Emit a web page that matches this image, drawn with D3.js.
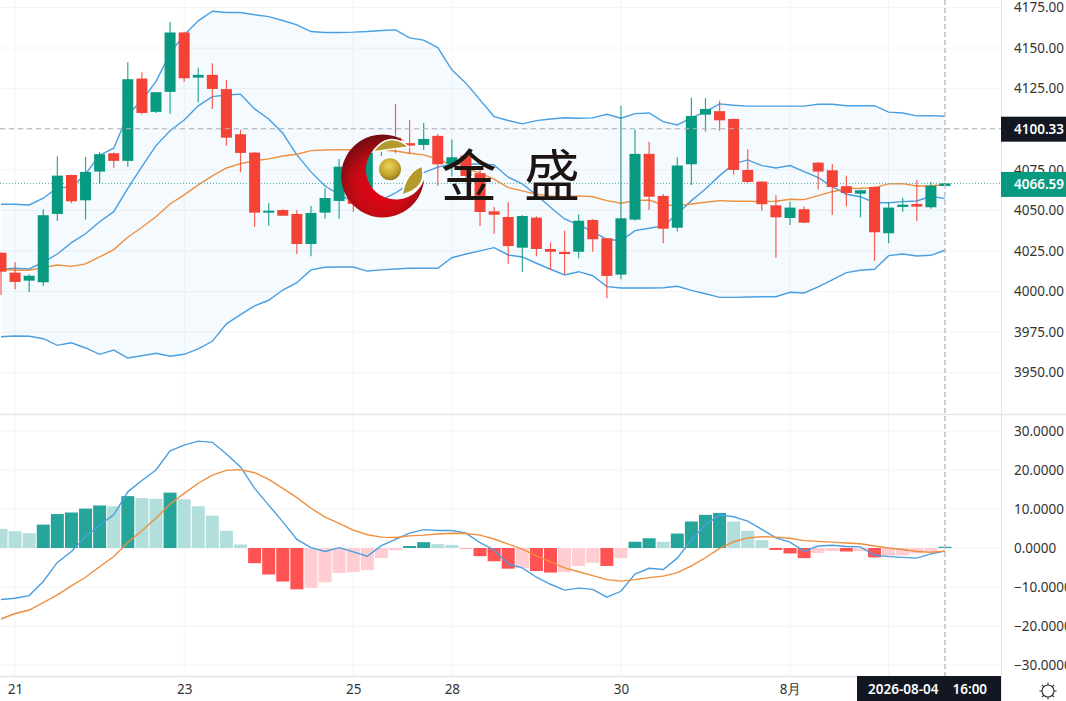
<!DOCTYPE html>
<html>
<head>
<meta charset="utf-8">
<script src="https://cdn.jsdelivr.net/npm/d3@7"></script>
<style>
  html, body { margin: 0; padding: 0; background: #fff; overflow: hidden; }
  text { font-family: "Noto Sans", sans-serif; }
  .tick text { font-size: 13.5px; fill: #333; }
</style>
</head>
<body>
<svg id="chart" width="1066" height="701"></svg>
<script>
// candles, oldest first
var openPrices = [4023.9, 4011.6, 4006.7, 4005.7, 4047.8, 4071.8, 4056.2, 4073.9, 4085.2, 4080.5,
  4131.2, 4110.7, 4123, 4159.6, 4131.8, 4133.5, 4124.7, 4096.9, 4085.6, 4048.6,
  4050.2, 4047.8, 4029.3, 4048.6, 4055.8, 4075, 4054, 4089.3, 4094.8, 4091.4,
  4090.3, 4095.9, 4078.6, 4083.7, 4072.9, 4049.4, 4045.9, 4027, 4045.5, 4026.2,
  4024.4, 4024.5, 4044.1, 4032.8, 4010.4, 4044.3, 4084.8, 4058.9, 4039.3, 4078.4,
  4109, 4111.1, 4106.3, 4074.9, 4067.7, 4053.1, 4045.3, 4050.7, 4079.4, 4074.7,
  4064.9, 4060.3, 4064.4, 4035.9, 4052.1, 4053.9, 4051.9, 4065];
var closePrices = [4012.2, 4005.9, 4009.7, 4047, 4071.4, 4055.6, 4073.7, 4084.6, 4080.5, 4130.8,
  4110, 4122.8, 4159.6, 4131.4, 4133.5, 4124.8, 4094.8, 4085.4, 4048.6, 4049.8,
  4046.7, 4029.3, 4048.4, 4057.6, 4076.9, 4054, 4089, 4094, 4090.3, 4089.9,
  4094, 4078.4, 4082.7, 4071.2, 4049, 4047.3, 4028, 4046.5, 4026.2, 4024.5,
  4023.1, 4043.6, 4032.2, 4009.6, 4045.1, 4084.8, 4058.4, 4038.7, 4077.6, 4108.2,
  4112.5, 4105.5, 4074.9, 4067.5, 4053.8, 4045.7, 4051.7, 4042.4, 4073.9, 4064.4,
  4060.7, 4062.4, 4036.5, 4051.7, 4053.5, 4052.3, 4065.2, 4066.59];
var highPrices = [4024, 4018, 4010.4, 4050.7, 4083.4, 4072, 4082.9, 4086, 4085.6, 4141.3,
  4135.1, 4123, 4166, 4160, 4137.8, 4140.7, 4130.4, 4099.6, 4086, 4054.6,
  4050.7, 4050.2, 4052.7, 4063.6, 4081.7, 4076, 4090, 4096, 4115.6, 4105.7,
  4103.9, 4097.1, 4093.6, 4084, 4075, 4052.1, 4055, 4047, 4046.4, 4030.3,
  4037.5, 4047.6, 4044.5, 4033, 4114.4, 4099.6, 4092.2, 4060.1, 4082.7, 4119.5,
  4119.1, 4117.6, 4106.6, 4087.7, 4068, 4059.3, 4055.4, 4052.3, 4079.8, 4078.6,
  4071.4, 4062.8, 4064.8, 4055.2, 4057.8, 4068.7, 4067.5, 4067];
var lowPrices = [3997.8, 4001.4, 3999.5, 4003.4, 4043.5, 4054.4, 4044.3, 4066.5, 4076.3, 4076.9,
  4109.2, 4110, 4109.6, 4129.2, 4116.4, 4112.5, 4089.9, 4073.5, 4039.9, 4040.6,
  4046.7, 4023.1, 4021.7, 4044.9, 4044.9, 4049.2, 4053, 4083.5, 4085.2, 4084.8,
  4087.2, 4065.2, 4070.8, 4070, 4040.4, 4035.6, 4017, 4012.2, 4021.7, 4013.3,
  4010.6, 4020.5, 4024.5, 3995.8, 4007.5, 4043.6, 4050.2, 4029.7, 4036.9, 4065.7,
  4098.5, 4099.1, 4072, 4067, 4049.8, 4020.8, 4041, 4042, 4062.8, 4047.2,
  4052.3, 4045.7, 4018.8, 4029.7, 4049.2, 4043.5, 4051, 4065];

// bollinger bands + slow average
var bollUpper = [4053.8, 4053.8, 4053.3, 4057.5, 4064, 4064.2, 4072.4, 4084, 4088.3, 4108.8,
  4118, 4129.3, 4146.9, 4158.1, 4166.8, 4172.7, 4171.9, 4171.9, 4170.5, 4169.4,
  4167, 4164.3, 4160.2, 4159.6, 4159.6, 4159.8, 4160.2, 4160.8, 4161.2, 4156.3,
  4154.9, 4150.3, 4136.6, 4128.4, 4118.1, 4107.8, 4105.4, 4103.3, 4105.3, 4106.3,
  4107.1, 4106.8, 4107, 4109.2, 4106.8, 4109.6, 4110, 4104.7, 4102.6, 4107,
  4110.8, 4115.6, 4114.8, 4114.2, 4114.2, 4114.2, 4114.2, 4114.2, 4115.4, 4115.4,
  4114.5, 4114.5, 4114.5, 4110.5, 4110, 4108.2, 4108.4, 4108];
var bollMiddle = [4013.7, 4014.3, 4013.9, 4018, 4023.1, 4030.1, 4035.6, 4043, 4049.2, 4063.6,
  4076.9, 4089.9, 4099.1, 4105.7, 4114.4, 4120.1, 4121.1, 4121.6, 4112.5, 4106.3,
  4097.5, 4084.2, 4073.7, 4065, 4059.9, 4055.2, 4053.3, 4056.4, 4060.7, 4066.3,
  4073.2, 4076.6, 4078.6, 4078.6, 4078.6, 4078, 4070.4, 4066.3, 4059.5, 4051.9,
  4044.7, 4041, 4036.9, 4032.2, 4031.3, 4037.5, 4039, 4040.4, 4047.8, 4056,
  4063.2, 4071.4, 4078.6, 4081.1, 4077.6, 4076.1, 4077.6, 4073.9, 4070.2, 4064.6,
  4059.9, 4058.4, 4054.7, 4054.7, 4055.4, 4055.8, 4058.7, 4057.2];
var bollLower = [3972.1, 3972.6, 3972.4, 3970.9, 3966.8, 3968.4, 3965.2, 3961.3, 3963.9, 3959,
  3960.4, 3961.9, 3960.1, 3961.3, 3964.6, 3969.3, 3980.1, 3985.7, 3991.1, 3994.6,
  4000.9, 4005.4, 4013.3, 4014.9, 4015.1, 4015.1, 4012.6, 4013.3, 4013.9, 4014.3,
  4014.3, 4014.3, 4020.8, 4023.1, 4025, 4027, 4022.5, 4021.3, 4017.4, 4013.7,
  4010.2, 4012.2, 4009.7, 4003, 4002.2, 4002.2, 4002.2, 4002.3, 4003.2, 4000.7,
  3998.6, 3996.4, 3996.4, 3996.6, 3996.8, 3996.8, 3999.5, 3999.1, 4002.8, 4007.1,
  4011.6, 4013.1, 4013.7, 4022.1, 4023.1, 4021.9, 4022.3, 4025.4];
var slowAverage = [4013.7, 4013.1, 4013.1, 4014.7, 4016.3, 4015.5, 4017, 4021.3, 4025.8, 4033.4,
  4039.6, 4046.1, 4053.9, 4059.5, 4065.7, 4071.2, 4076.1, 4078.8, 4080.6, 4081.7,
  4083.5, 4084.6, 4086.8, 4087.2, 4087.4, 4087.2, 4087.2, 4087.2, 4086.6, 4085.2,
  4084.2, 4081.5, 4078, 4076, 4072.9, 4069.2, 4064, 4062, 4059.9, 4058.9,
  4058.4, 4058.9, 4058.4, 4056, 4054.4, 4056, 4056.4, 4053.3, 4053.1, 4053.9,
  4055, 4056, 4055.6, 4055.6, 4055.4, 4055.6, 4056.8, 4056.6, 4059.1, 4061.5,
  4063.4, 4063.6, 4064, 4066.3, 4066.5, 4065, 4065, 4066.1];

// macd pane
var macdHist = [4.9, 4.3, 3.8, 6, 8.7, 9.1, 10.1, 10.9, 10.7, 13.3,
  12.8, 12.6, 14.2, 12.5, 10.7, 8.3, 4.4, 0.9, -3.9, -6.8,
  -8.6, -10.6, -10.2, -8.8, -6.4, -6.2, -5.7, -2.6, -0.6, 0.5,
  1.5, 1, 0.8, -0.1, -2.1, -3.4, -5.3, -5.1, -5.9, -6.3,
  -6.2, -4.6, -3.8, -4.6, -2.6, 1.6, 2.5, 1.6, 3.7, 6.8,
  8.5, 9, 6.8, 4.4, 2, -0.5, -1.4, -2.6, -1.3, -0.8,
  -0.9, -0.8, -2.4, -2, -1.9, -1.3, -0.9, 0.3];
var macdDif = [-13.2, -12.9, -12.2, -8.6, -3.7, -0.9, 2.9, 5.9, 8.5, 14.4,
  17.3, 20, 24.9, 26.4, 27.4, 27.1, 24.1, 20.8, 15.3, 11,
  6.7, 2.2, 0.1, -0.9, 0.1, -1, -2.1, 0.6, 2.2, 3.8,
  4.7, 4.5, 4.5, 3.8, 1.4, -0.5, -4.1, -5.1, -7.5, -9.3,
  -10.8, -10.3, -10.6, -12.6, -11.1, -6.7, -5.2, -5.5, -2.6, 2.1,
  5.9, 8.5, 8, 6.9, 4.8, 2.6, 1.5, -0.8, 0.5, 0.7,
  0.4, 0.3, -1.8, -2.2, -2.4, -2.6, -1.5, -0.8];
var macdDea = [-18.2, -16.8, -15.9, -14, -12, -9.7, -7.5, -4.8, -2.2, 1.4,
  4.4, 7.6, 11.3, 14, 16.6, 18.7, 19.9, 20.1, 19.3, 17.6,
  15.3, 12.9, 10.2, 7.9, 6.3, 4.6, 3.4, 2.8, 2.7, 3.1,
  3.3, 3.6, 3.8, 3.7, 3.3, 2.3, 1, -0.3, -2, -3.5,
  -5.1, -6.1, -7.1, -8.1, -8.5, -8.1, -7.6, -7.2, -6.3, -4.6,
  -2.5, -0.1, 1.6, 2.6, 2.9, 2.8, 2.5, 1.9, 1.7, 1.5,
  1.3, 1.1, 0.5, 0, -0.4, -0.9, -1.1, -0.8];

// ticks
var priceTicks = [4175, 4150, 4125, 4100, 4075, 4050, 4025, 4000, 3975, 3950];
var macdTicks = [30, 20, 10, 0, -10, -20, -30];
var timeGridIndex = [1, 13, 25, 32, 44, 56, 63]; // the last one has its label under the date tag
var timeTickIndex = [1, 13, 25, 32, 44, 56];
var timeTickLabels = ['21', '23', '25', '28', '30', '8月'];

var crossPrice = 4100.33;
var lastPrice = 4066.59;
var crossTime = '2026-08-04    16:00';

var upColor = '#089981', downColor = '#f44336';
var blue = '#4a9fe0', orange = '#ee8f3e';
var gridColor = '#f3f4f6', borderColor = '#e3e5ea', darkBox = '#131722';

var svg = d3.select('#chart');
var plotRight = 1001, splitY = 414, bottomY = 676;

var x = d3.scaleLinear().domain([0, openPrices.length - 1]).range([1, 945]);
var y = d3.scaleLinear().domain([4000, 4175]).range([291.5, 7.5]);
var yMacd = d3.scaleLinear().domain([-30, 30]).range([665, 431]);

var defs = svg.append('defs');
defs.append('clipPath').attr('id', 'clipPrice').append('rect')
  .attr('x', 0).attr('y', 0).attr('width', plotRight).attr('height', splitY);
defs.append('clipPath').attr('id', 'clipMacd').append('rect')
  .attr('x', 0).attr('y', splitY).attr('width', plotRight).attr('height', bottomY - splitY);

// grid
var grid = svg.append('g');
grid.selectAll('.hp').data(priceTicks).enter().append('line')
  .attr('x1', 0).attr('x2', plotRight)
  .attr('y1', function (d) { return y(d); }).attr('y2', function (d) { return y(d); })
  .attr('stroke', gridColor);
grid.selectAll('.hm').data(macdTicks).enter().append('line')
  .attr('x1', 0).attr('x2', plotRight)
  .attr('y1', function (d) { return yMacd(d); }).attr('y2', function (d) { return yMacd(d); })
  .attr('stroke', gridColor);
grid.selectAll('.v').data(timeGridIndex).enter().append('line')
  .attr('x1', function (d) { return x(d); }).attr('x2', function (d) { return x(d); })
  .attr('y1', 0).attr('y2', bottomY)
  .attr('stroke', gridColor);

// price pane
var pricePane = svg.append('g').attr('clip-path', 'url(#clipPrice)');
var idx = d3.range(openPrices.length);

pricePane.append('path')
  .datum(idx)
  .attr('fill', 'rgba(33,150,243,0.05)')
  .attr('d', d3.area()
    .x(function (i) { return x(i); })
    .y0(function (i) { return y(bollLower[i]); })
    .y1(function (i) { return y(bollUpper[i]); }));

function priceLine(values, color) {
  pricePane.append('path')
    .datum(values)
    .attr('fill', 'none')
    .attr('stroke', color)
    .attr('stroke-width', 1.4)
    .attr('d', d3.line()
      .x(function (d, i) { return x(i); })
      .y(function (d) { return y(d); }));
}
priceLine(bollUpper, blue);
priceLine(bollLower, blue);
priceLine(bollMiddle, blue);
priceLine(slowAverage, orange);

// dotted last price goes under the candles
pricePane.append('line')
  .attr('x1', 0).attr('x2', plotRight)
  .attr('y1', y(lastPrice)).attr('y2', y(lastPrice))
  .attr('stroke', '#4fb3a3').attr('stroke-dasharray', '1 2');

var candles = pricePane.selectAll('.candle').data(idx).enter().append('g').attr('class', 'candle');
candles.append('line')
  .attr('x1', function (i) { return x(i); }).attr('x2', function (i) { return x(i); })
  .attr('y1', function (i) { return y(highPrices[i]); })
  .attr('y2', function (i) { return y(lowPrices[i]); })
  .attr('stroke-width', 1.2)
  .attr('stroke-opacity', 0.85)
  .attr('stroke', function (i) { return closePrices[i] >= openPrices[i] ? upColor : downColor; });
candles.append('rect')
  .attr('x', function (i) { return x(i) - 5.5; })
  .attr('width', 11)
  .attr('y', function (i) { return y(Math.max(openPrices[i], closePrices[i])); })
  .attr('height', function (i) { return Math.max(1.5, Math.abs(y(openPrices[i]) - y(closePrices[i]))); })
  .attr('fill', function (i) { return closePrices[i] >= openPrices[i] ? upColor : downColor; });

// macd pane
var macdPane = svg.append('g').attr('clip-path', 'url(#clipMacd)');
function histColor(v, i) {
  var strong = i > 0 && (v >= 0 ? v > macdHist[i - 1] : v < macdHist[i - 1]);
  if (v >= 0) return strong ? '#26a69a' : '#b2dfdb';
  return strong ? '#ff5252' : '#ffcdd2';
}
macdPane.selectAll('.bar').data(macdHist).enter().append('rect')
  .attr('class', 'bar')
  .attr('x', function (d, i) { return x(i) - 6.5; })
  .attr('width', 13)
  .attr('y', function (d) { return Math.min(yMacd(d), yMacd(0)); })
  .attr('height', function (d) { return Math.abs(yMacd(d) - yMacd(0)); })
  .attr('fill', histColor);

function macdLine(values, color) {
  macdPane.append('path')
    .datum(values)
    .attr('fill', 'none')
    .attr('stroke', color)
    .attr('stroke-width', 1.4)
    .attr('d', d3.line()
      .x(function (d, i) { return x(i); })
      .y(function (d) { return yMacd(d); }));
}
macdLine(macdDif, blue);
macdLine(macdDea, orange);

// crosshair
svg.append('line')
  .attr('x1', 0).attr('x2', plotRight)
  .attr('y1', y(crossPrice)).attr('y2', y(crossPrice))
  .attr('stroke', '#b0b3b9').attr('stroke-dasharray', '5 4');
svg.append('line')
  .attr('x1', x(67)).attr('x2', x(67))
  .attr('y1', 0).attr('y2', bottomY)
  .attr('stroke', '#bcbfc4').attr('stroke-width', 1.5).attr('stroke-dasharray', '5 3');

// watermark logo
var red = defs.append('radialGradient').attr('id', 'logoRed')
  .attr('cx', '0.5').attr('cy', '0.62').attr('r', '0.62');
red.append('stop').attr('offset', '0').attr('stop-color', '#ec0016');
red.append('stop').attr('offset', '0.55').attr('stop-color', '#c80a14');
red.append('stop').attr('offset', '1').attr('stop-color', '#6e0d12');
var gold = defs.append('radialGradient').attr('id', 'logoGold')
  .attr('cx', '0.45').attr('cy', '0.35').attr('r', '0.7');
gold.append('stop').attr('offset', '0').attr('stop-color', '#ecd45a');
gold.append('stop').attr('offset', '0.6').attr('stop-color', '#c4a52c');
gold.append('stop').attr('offset', '1').attr('stop-color', '#8a7216');

var logo = svg.append('g');
logo.append('path')
  .attr('d', 'M405 141A41.5 41.5 0 1 0 424 180A30 30 0 1 1 405 141Z')
  .attr('fill', 'url(#logoRed)');
logo.append('circle').attr('cx', 390).attr('cy', 169.3).attr('r', 11).attr('fill', 'url(#logoGold)');
logo.append('path')
  .attr('d', 'M373 152Q388 130 409 147Q392 149 373 152Z')
  .attr('fill', '#b39a2c').attr('stroke', '#fff').attr('stroke-width', 1.5);
logo.append('path')
  .attr('d', 'M402 195Q406 172 422 166Q428 188 402 195Z')
  .attr('fill', '#b39a2c').attr('stroke', '#fff').attr('stroke-width', 1.5);
logo.append('text')
  .attr('x', 441).attr('y', 196)
  .style('font-family', '"Noto Sans CJK SC"')
  .style('font-size', '56px')
  .style('letter-spacing', '27px')
  .attr('fill', '#1c1512')
  .text('金盛');

// borders
svg.append('rect').attr('x', plotRight).attr('y', 0).attr('width', 65).attr('height', 701).attr('fill', '#fff');
svg.append('rect').attr('x', 0).attr('y', bottomY).attr('width', 1066).attr('height', 25).attr('fill', '#fff');
svg.append('line').attr('x1', plotRight + 0.5).attr('x2', plotRight + 0.5).attr('y1', 0).attr('y2', 701)
  .attr('stroke', borderColor);
svg.append('line').attr('x1', 0).attr('x2', 1066).attr('y1', splitY + 0.5).attr('y2', splitY + 0.5)
  .attr('stroke', borderColor).attr('stroke-width', 1.4);
svg.append('line').attr('x1', 0).attr('x2', plotRight).attr('y1', bottomY + 0.5).attr('y2', bottomY + 0.5)
  .attr('stroke', borderColor).attr('stroke-width', 1.4);

// axes
var priceAxis = d3.axisRight(y).tickValues(priceTicks).tickSize(0).tickPadding(0)
  .tickFormat(function (d) { return d3.format('.2f')(d); });
svg.append('g').attr('transform', 'translate(1014,0)').call(priceAxis)
  .call(function (g) { g.select('.domain').remove(); });
var macdAxis = d3.axisRight(yMacd).tickValues(macdTicks).tickSize(0).tickPadding(0)
  .tickFormat(function (d) { return d3.format('.4f')(d).replace('-', '−'); });
svg.append('g').attr('transform', 'translate(1014,0)').call(macdAxis)
  .call(function (g) { g.select('.domain').remove(); });
var timeAxis = d3.axisBottom(x).tickValues(timeTickIndex).tickSize(0).tickPadding(0)
  .tickFormat(function (d, i) { return timeTickLabels[i]; });
svg.append('g').attr('transform', 'translate(0,684)').call(timeAxis)
  .call(function (g) { g.select('.domain').remove(); });

// value tags
function tag(px, py, w, h, color, label, tx) {
  svg.append('rect').attr('x', px).attr('y', py).attr('width', w).attr('height', h).attr('fill', color);
  svg.append('text').attr('x', tx).attr('y', py + h / 2 + 5)
    .attr('fill', '#fff').style('font-size', '13.5px').style('font-weight', 600)
    .style('white-space', 'pre').text(label);
}
tag(plotRight, y(crossPrice) - 12, 65, 25, darkBox, d3.format('.2f')(crossPrice), 1014);
tag(plotRight, y(lastPrice) - 11.5, 65, 25, upColor, d3.format('.2f')(lastPrice), 1014);
tag(857, bottomY, plotRight - 857, 25, darkBox, crossTime, 868);

// settings icon
var gear = svg.append('g').attr('transform', 'translate(1048,691)')
  .attr('fill', 'none').attr('stroke', '#333').attr('stroke-width', 1.1);
gear.append('circle').attr('r', 6);
gear.selectAll('line').data(d3.range(8)).enter().append('line')
  .attr('x1', 0).attr('x2', 0).attr('y1', -6).attr('y2', -8.5)
  .attr('transform', function (d) { return 'rotate(' + d * 45 + ')'; });
</script>
</body>
</html>
